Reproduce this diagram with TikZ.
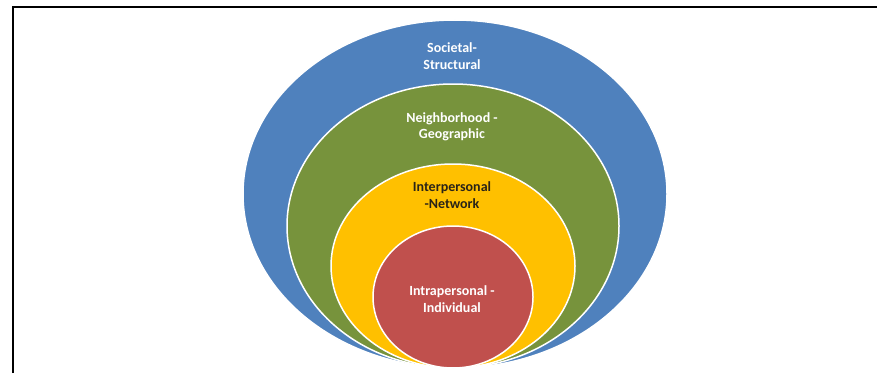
\documentclass[tikz,border=0pt]{standalone}
\usepackage{fontspec}
\setmainfont{Carlito}
\definecolor{societal}{HTML}{4F81BD}
\definecolor{hood}{HTML}{77933C}
\definecolor{inter}{HTML}{FFC000}
\definecolor{intra}{HTML}{C0504D}
\definecolor{ink}{HTML}{2A2418}

\begin{document}
\begin{tikzpicture}[x=1pt,y=1pt,font=\fontsize{14}{16.5}\selectfont\bfseries]
\useasboundingbox (0,0) rectangle (877,373);
% frame: only its top and left edges are in the picture
\draw[line width=2pt] (12.5,0) -- (12.5,366) -- (877,366);
% rings, outer to inner, all touching at the bottom
\foreach \cx/\cy/\rx/\ry/\col in {
 455/179/212/174/societal,
 453/147/166/142/hood,
 453/107/122/102/inter,
 453/76/80/71/intra} {
 \fill[\col,draw=white,line width=1.5pt] (\cx,\cy) ellipse [x radius=\rx, y radius=\ry];
}
\node[text=white,align=center] (societal) at (452,317) {Societal-\\Structural};
\node[text=white,align=center] (hood) at (452,246) {Neighborhood -\\Geographic};
\node[text=ink,align=center] (inter) at (452,178) {Interpersonal\\-Network};
\node[text=white,align=center] (intra) at (452,74) {Intrapersonal -\\Individual};
\end{tikzpicture}
\end{document}
